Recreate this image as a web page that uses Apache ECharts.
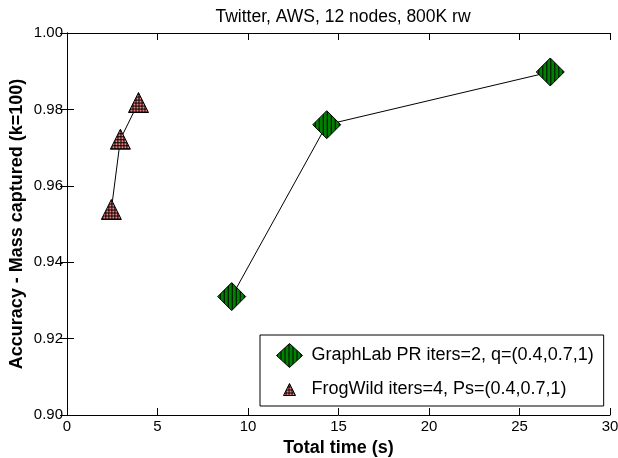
<!DOCTYPE html>
<html><head><meta charset="utf-8">
<script src="https://cdn.jsdelivr.net/npm/echarts@6/dist/echarts.min.js"></script>
<style>html,body{margin:0;padding:0;background:#fff}#c{width:618px;height:458px}</style>
</head><body><div id="c"></div>
<script>
const graphlabTime = [9.1, 14.35, 26.7];
const graphlabAcc = [0.931, 0.976, 0.9898];
const frogTime = [2.45, 2.95, 3.95];
const frogAcc = [0.9538, 0.9722, 0.9818];
const xTicks = [0, 5, 10, 15, 20, 25, 30];
const yTicks = [0.90, 0.92, 0.94, 0.96, 0.98, 1.00];
const seriesNames = ['GraphLab PR iters=2, q=(0.4,0.7,1)', 'FrogWild iters=4, Ps=(0.4,0.7,1)'];

function makePattern(bg, vlines, hlines, step, scale) {
  const c = document.createElement('canvas');
  c.width = step; c.height = step;
  const g = c.getContext('2d');
  g.fillStyle = bg; g.fillRect(0, 0, step, step);
  g.fillStyle = '#000';
  if (vlines) g.fillRect(0, 0, 1, step);
  if (hlines) g.fillRect(0, 0, step, 1);
  return {image: c, repeat: 'repeat', scaleX: scale, scaleY: scale};
}
const dSize = 28, tSize = 20;
const greenPat = makePattern('#008000', true, false, 4, 2 / dSize);
const pinkPat = makePattern('#f08080', true, true, 3, 2 / tSize);
const greenPatL = makePattern('#008000', true, false, 4, 1);
const pinkPatL = makePattern('#f08080', true, true, 3, 1);

const chart = echarts.init(document.getElementById('c'));
const font = 'Liberation Sans, Arial, sans-serif';
const xA = {type: 'value', min: xTicks[0], max: xTicks[xTicks.length-1], interval: 5,
  axisLine: {show: true, lineStyle: {color: '#000', width: 1}},
  axisTick: {show: true, inside: true, length: 7, lineStyle: {color: '#000'}},
  splitLine: {show: false}};
const yA = {type: 'value', min: yTicks[0], max: yTicks[yTicks.length-1], interval: 0.02,
  axisLine: {show: true, lineStyle: {color: '#000', width: 1}},
  axisTick: {show: true, inside: true, length: 7, lineStyle: {color: '#000'}},
  splitLine: {show: false}};
chart.setOption({
  animation: false,
  textStyle: {fontFamily: font},
  title: {text: 'Twitter, AWS, 12 nodes, 800K rw', left: 338, textAlign: 'center', top: 3,
    textStyle: {fontSize: 17.5, fontWeight: 'normal', color: '#000', fontFamily: font}},
  grid: {left: 67, right: 8, top: 33, bottom: 43, show: false, containLabel: false, outerBoundsMode: 'none'},
  xAxis: [
    Object.assign({}, xA, {position: 'bottom', name: 'Total time (s)', nameLocation: 'middle', nameGap: 23,
      nameTextStyle: {fontSize: 18, fontWeight: 'bold', color: '#000', fontFamily: font},
      axisLabel: {fontSize: 15, color: '#000', margin: 4, fontFamily: font}}),
    Object.assign({}, xA, {position: 'top', axisLabel: {show: false}})
  ],
  yAxis: [
    Object.assign({}, yA, {position: 'left', name: 'Accuracy - Mass captured (k=100)', nameLocation: 'middle', nameGap: 41,
      nameMoveOverlap: false,
      nameTextStyle: {fontSize: 18, fontWeight: 'bold', color: '#000', fontFamily: font},
      axisLabel: {fontSize: 15, color: '#000', margin: 4, fontFamily: font, formatter: v => v.toFixed(2)}}),
    Object.assign({}, yA, {position: 'right', axisLabel: {show: false}})
  ],
  legend: {
    orient: 'vertical', left: 260, top: 335,
    padding: [8, 10, 4, 16], itemGap: 9,
    borderColor: '#000', borderWidth: 1, backgroundColor: '#fff',
    itemWidth: 26, itemHeight: 24,
    textStyle: {fontSize: 18, color: '#000', fontFamily: font, padding: [0, 0, 0, 4]},
    data: [
      {name: seriesNames[0], icon: 'diamond', itemStyle: {color: greenPatL, borderColor: '#000', borderWidth: 1}},
      {name: seriesNames[1], icon: 'path://M0,0 M24,24 M12,6 L18,18 L6,18 Z', itemStyle: {color: pinkPatL, borderColor: '#000', borderWidth: 1}}
    ]
  },
  series: [
    {name: seriesNames[0], type: 'line', data: graphlabTime.map((t, i) => [t, graphlabAcc[i]]),
      symbol: 'diamond', symbolSize: dSize,
      lineStyle: {color: '#000', width: 1},
      itemStyle: {color: greenPat, borderColor: '#000', borderWidth: 1}},
    {name: seriesNames[1], type: 'line', data: frogTime.map((t, i) => [t, frogAcc[i]]),
      symbol: 'triangle', symbolSize: tSize,
      lineStyle: {color: '#000', width: 1},
      itemStyle: {color: pinkPat, borderColor: '#000', borderWidth: 1}}
  ]
});
</script></body></html>
